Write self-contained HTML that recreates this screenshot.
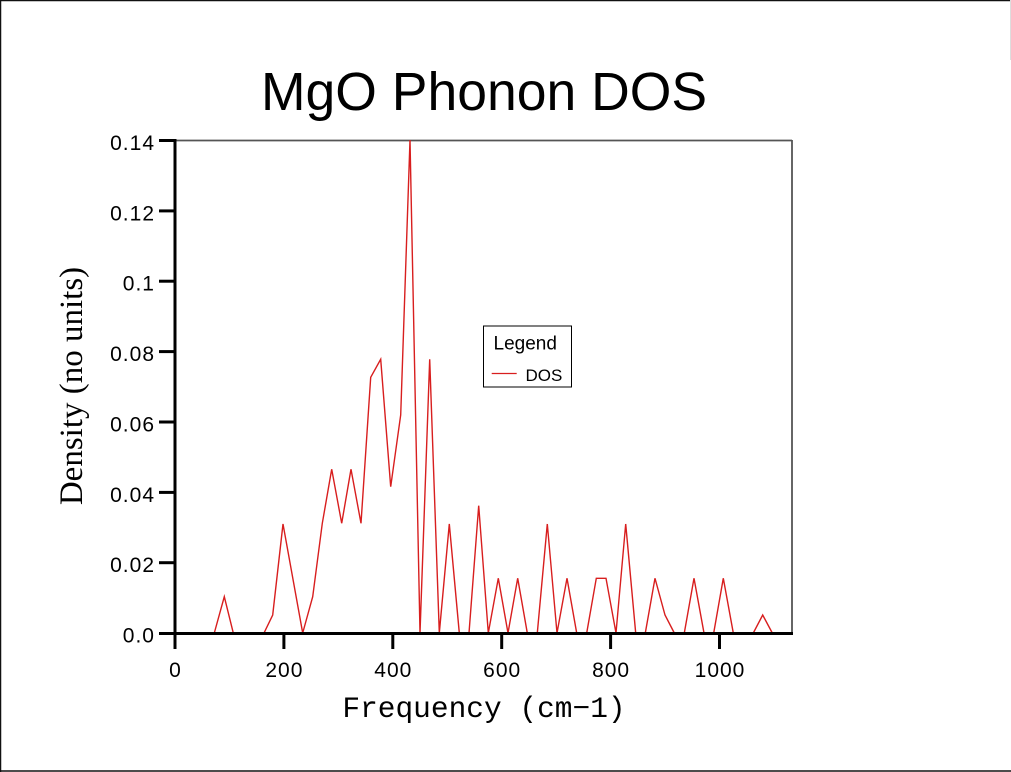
<!DOCTYPE html>
<html>
<head>
<meta charset="utf-8">
<style>
  html, body { margin: 0; padding: 0; background: #ffffff; }
  body { width: 1011px; height: 772px; overflow: hidden; }
  svg { display: block; }
</style>
</head>
<body>
<svg width="1011" height="772" viewBox="0 0 1011 772" xmlns="http://www.w3.org/2000/svg">
  <rect x="0" y="0" width="1011" height="772" fill="#ffffff"/>
  <!-- outer frame -->
  <line x1="0" y1="0.5" x2="1011" y2="0.5" stroke="#111" stroke-width="1.5"/>
  <line x1="0.5" y1="0" x2="0.5" y2="772" stroke="#111" stroke-width="1.5"/>
  <line x1="0" y1="771" x2="1011" y2="771" stroke="#111" stroke-width="1.5"/>
  <line x1="1010.5" y1="0" x2="1010.5" y2="60" stroke="#ddd" stroke-width="1"/>

  <!-- title -->
  <text x="484" y="110" font-family="Liberation Sans, sans-serif" font-size="53.5" text-anchor="middle" fill="#000">MgO Phonon DOS</text>

  <!-- top and right frame of plot -->
  <line x1="175" y1="140.5" x2="792" y2="140.5" stroke="#555" stroke-width="1.8"/>
  <line x1="792" y1="140" x2="792" y2="634" stroke="#555" stroke-width="1.8"/>

  <!-- data -->
  <polyline fill="none" stroke="#d81e1e" stroke-width="1.4" stroke-linejoin="miter"
    points="214.3,633 224.3,596.7 233.3,633 264,633 272.7,615 283,524 302.7,633 312.7,596.7 322.3,523.3 331.7,469.3 341.7,523.3 351,469.3 361,523.3 370.7,377.3 380.7,359.3 390.7,486.7 400.7,415 410,140 420,633 429.7,359.3 439.3,633 449.3,524 459.3,633 469,633 478.7,505.7 488.3,633 498.3,578.3 508,633 517.7,578.3 527.3,633 537.3,633 547.3,524 557,633 567,578.3 576.7,633 586.7,633 596.3,578.3 606,578.3 616,633 625.7,524 635.7,633 645.3,633 655,578.3 665,615 674.3,633 684.3,633 694,578.3 704,633 713.7,633 723.3,578.3 733.3,633 753.3,633 762.7,615 772.3,633"/>

  <!-- left axis -->
  <line x1="175" y1="139" x2="175" y2="635" stroke="#000" stroke-width="3"/>
  <!-- bottom axis -->
  <line x1="159" y1="633.5" x2="793" y2="633.5" stroke="#000" stroke-width="3"/>

  <!-- y ticks -->
  <g stroke="#000" stroke-width="3">
    <line x1="159" y1="140.5" x2="175" y2="140.5"/>
    <line x1="159" y1="210.9" x2="175" y2="210.9"/>
    <line x1="159" y1="281.2" x2="175" y2="281.2"/>
    <line x1="159" y1="351.6" x2="175" y2="351.6"/>
    <line x1="159" y1="422" x2="175" y2="422"/>
    <line x1="159" y1="492.4" x2="175" y2="492.4"/>
    <line x1="159" y1="562.7" x2="175" y2="562.7"/>
  </g>
  <!-- x ticks -->
  <g stroke="#000" stroke-width="3">
    <line x1="175" y1="633" x2="175" y2="649"/>
    <line x1="283.9" y1="633" x2="283.9" y2="649"/>
    <line x1="392.8" y1="633" x2="392.8" y2="649"/>
    <line x1="501.7" y1="633" x2="501.7" y2="649"/>
    <line x1="610.6" y1="633" x2="610.6" y2="649"/>
    <line x1="719.5" y1="633" x2="719.5" y2="649"/>
  </g>

  <!-- y tick labels -->
  <g font-family="Liberation Sans, sans-serif" font-size="21" letter-spacing="1" fill="#000" text-anchor="end">
    <text x="155" y="150">0.14</text>
    <text x="155" y="220.4">0.12</text>
    <text x="155" y="290.7">0.1</text>
    <text x="155" y="361.1">0.08</text>
    <text x="155" y="431.5">0.06</text>
    <text x="155" y="501.9">0.04</text>
    <text x="155" y="572.2">0.02</text>
    <text x="155" y="642.5">0.0</text>
  </g>

  <!-- x tick labels -->
  <g font-family="Liberation Sans, sans-serif" font-size="21" letter-spacing="1" fill="#000" text-anchor="middle">
    <text x="175.5" y="677">0</text>
    <text x="284.4" y="677">200</text>
    <text x="393.3" y="677">400</text>
    <text x="502.2" y="677">600</text>
    <text x="611.1" y="677">800</text>
    <text x="720" y="677">1000</text>
  </g>

  <!-- axis labels -->
  <text x="484" y="717" font-family="Liberation Mono, monospace" font-size="29.5" text-anchor="middle" fill="#000">Frequency (cm−1)</text>
  <text transform="translate(82,386) rotate(-90)" x="0" y="0" font-family="Liberation Serif, serif" font-size="33" text-anchor="middle" fill="#000">Density (no units)</text>

  <!-- legend -->
  <rect x="483.5" y="326" width="88" height="61" fill="#ffffff" stroke="#000" stroke-width="1"/>
  <text x="493.5" y="349.3" font-family="Liberation Sans, sans-serif" font-size="19" fill="#000">Legend</text>
  <line x1="491.7" y1="373.5" x2="516.7" y2="373.5" stroke="#d81e1e" stroke-width="1.3"/>
  <text x="525.5" y="381" font-family="Liberation Sans, sans-serif" font-size="17" fill="#000">DOS</text>
</svg>
</body>
</html>
